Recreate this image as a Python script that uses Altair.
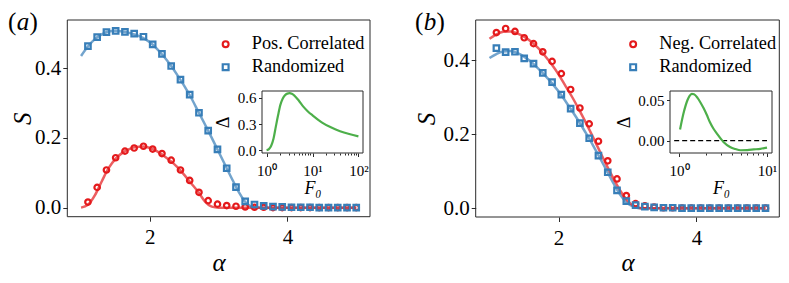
import altair as alt
import pandas as pd

# ---------------- data ----------------
alpha_pts = [1.1, 1.234, 1.369, 1.503, 1.638, 1.772, 1.907, 2.041, 2.176, 2.31,
             2.445, 2.579, 2.714, 2.848, 2.983, 3.117, 3.252, 3.386, 3.521, 3.655,
             3.79, 3.924, 4.059, 4.193, 4.328, 4.462, 4.597, 4.731, 4.866, 5.0]

a_pos_pts = [0.016, 0.058, 0.108, 0.143, 0.162, 0.171, 0.176, 0.168, 0.155, 0.136,
             0.108, 0.078, 0.044, 0.020, 0.010, 0.006, 0.004, 0.002, 0.001, 0.001,
             0.0, 0.0, 0.0, 0.0, 0.0, 0.0, 0.0, 0.0, 0.0, 0.0]
a_rand_pts = [0.463, 0.489, 0.503, 0.507, 0.504, 0.499, 0.490, 0.468, 0.441, 0.406,
              0.367, 0.324, 0.272, 0.221, 0.167, 0.113, 0.059, 0.018, 0.009, 0.005,
              0.003, 0.002, 0.001, 0.001, 0.001, 0.0, 0.0, 0.0, 0.0, 0.0]
b_neg_pts = [0.475, 0.486, 0.478, 0.461, 0.445, 0.423, 0.397, 0.364, 0.321, 0.271,
             0.228, 0.181, 0.128, 0.079, 0.034, 0.012, 0.006, 0.003, 0.001, 0.001,
             0.0, 0.0, 0.0, 0.0, 0.0, 0.0, 0.0, 0.0, 0.0, 0.0]
b_rand_pts = [0.433, 0.422, 0.423, 0.405, 0.391, 0.366, 0.341, 0.307, 0.269, 0.230,
              0.189, 0.142, 0.097, 0.048, 0.019, 0.008, 0.004, 0.002, 0.001, 0.001,
              0.0, 0.0, 0.0, 0.0, 0.0, 0.0, 0.0, 0.0, 0.0, 0.0]

a_pos_line_x = [1.0, 1.1, 1.2, 1.3, 1.4, 1.5, 1.6, 1.7, 1.8, 1.9, 2.0, 2.1, 2.2, 2.3,
                2.4, 2.5, 2.6, 2.7, 2.8, 2.9, 3.0, 5.0]
a_pos_line_y = [0.000, 0.008, 0.035, 0.075, 0.113, 0.140, 0.157, 0.168, 0.174, 0.175,
                0.171, 0.162, 0.149, 0.134, 0.116, 0.094, 0.070, 0.046, 0.018, 0.003,
                0.0, 0.0]
a_rand_line_x = [1.0, 1.1, 1.2, 1.3, 1.4, 1.5, 1.6, 1.7, 1.8, 1.9, 2.0, 2.1, 2.2, 2.3,
                 2.4, 2.5, 2.6, 2.7, 2.8, 2.9, 3.0, 3.1, 3.2, 3.3, 3.4, 3.5, 3.6, 5.0]
a_rand_line_y = [0.435, 0.462, 0.483, 0.497, 0.505, 0.507, 0.505, 0.501, 0.495, 0.487,
                 0.474, 0.456, 0.434, 0.409, 0.380, 0.349, 0.315, 0.277, 0.239, 0.200,
                 0.160, 0.120, 0.080, 0.042, 0.013, 0.002, 0.0, 0.0]
b_neg_line_x = [1.0, 1.1, 1.2, 1.3, 1.4, 1.5, 1.6, 1.7, 1.8, 1.9, 2.0, 2.1, 2.2, 2.3,
                2.4, 2.5, 2.6, 2.7, 2.8, 2.9, 3.0, 3.1, 3.2, 5.0]
b_neg_line_y = [0.458, 0.470, 0.477, 0.478, 0.473, 0.464, 0.451, 0.434, 0.413, 0.389,
                0.362, 0.331, 0.300, 0.266, 0.230, 0.192, 0.153, 0.115, 0.079, 0.046,
                0.020, 0.005, 0.0, 0.0]
b_rand_line_x = [1.0, 1.1, 1.2, 1.3, 1.4, 1.5, 1.6, 1.7, 1.8, 1.9, 2.0, 2.1, 2.2, 2.3,
                 2.4, 2.5, 2.6, 2.7, 2.8, 2.9, 3.0, 3.1, 3.2, 5.0]
b_rand_line_y = [0.406, 0.417, 0.424, 0.425, 0.420, 0.410, 0.396, 0.379, 0.360, 0.339,
                 0.316, 0.290, 0.262, 0.233, 0.202, 0.170, 0.136, 0.101, 0.066, 0.035,
                 0.013, 0.003, 0.0, 0.0]

inset_a_F0 = [1.0, 1.122, 1.259, 1.413, 1.585, 1.778, 1.995, 2.239, 2.512, 2.818, 3.162,
              3.548, 3.981, 5.012, 6.31, 7.943, 10.0, 15.85, 25.12, 39.81, 63.1, 100.0]
inset_a_delta = [0.0, 0.012, 0.05, 0.13, 0.267, 0.40, 0.52, 0.59, 0.63, 0.65, 0.655,
                 0.648, 0.63, 0.57, 0.50, 0.445, 0.40, 0.32, 0.262, 0.218, 0.185, 0.158]

inset_b_F0 = [1.026, 1.122, 1.245, 1.318, 1.396, 1.479, 1.622, 1.758, 1.905, 2.065, 2.239,
              2.455, 2.692, 3.199, 3.802, 4.365, 5.012, 5.957, 7.079, 8.414, 10.0]
inset_b_delta = [0.0137, 0.0335, 0.050, 0.0555, 0.058, 0.0575, 0.053, 0.047, 0.040, 0.032,
                 0.023, 0.015, 0.0087, -0.0017, -0.008, -0.0105, -0.012, -0.0118, -0.011,
                 -0.0102, -0.0087]
zero_line_F0 = [0.88, 10.0]
zero_line_delta = [0.0, 0.0]

# ---------------- style / layout ----------------
FONT = "Liberation Serif"
RED = "#e41a1c"
BLUE = "#377eb8"
GREEN = "#4daf4a"
INK = "#2a2a2a"
W, H = 773, 267
ONE = pd.DataFrame({"k": [0]})


def text_piece(s, x, y, size, style="normal"):
    return alt.Chart(ONE).mark_text(
        text=s, font=FONT, fontSize=size, fontStyle=style, align="left",
        baseline="alphabetic", color="black"
    ).encode(x=alt.value(x), y=alt.value(y))


def frame(x0, x1, y0, y1, fill="transparent"):
    return alt.Chart(ONE).mark_rect(fill=fill, stroke=INK, strokeWidth=1).encode(
        x=alt.value(x0), x2=alt.value(x1), y=alt.value(y0), y2=alt.value(y1))


def main_panel(x0, x1, y0, y1, ydom, name, pts_main, pts_rand, lmx, lmy, lrx, lry,
               legend_x, legend_y, tag, tag_x, s_title_x):
    ax_common = dict(domain=False, grid=False, tickSize=4.5, tickWidth=1, tickColor=INK,
                     labelFont=FONT, labelFontSize=21, labelColor="black",
                     titleFont=FONT, titleFontSize=25, titleFontStyle="italic",
                     titleFontWeight="normal", titleColor="black",
                     labelFlush=False, labelOverlap=False, titleBaseline="alphabetic")
    xs = alt.Scale(domain=[0.8, 5.2], range=[x0, x1], nice=False, zero=False)
    ys = alt.Scale(domain=ydom, range=[y1, y0], nice=False, zero=False)
    x_enc = alt.X("alpha:Q", scale=xs,
                  axis=alt.Axis(orient="bottom", offset=y1 - H, values=[2, 4], format="d",
                                title="α", labelPadding=5.5, titleY=262.5 - y1, **ax_common))
    y_enc = alt.Y("S:Q", scale=ys,
                  axis=alt.Axis(orient="left", offset=-x0, values=[0, 0.2, 0.4], format=".1f",
                                title="S", labelPadding=2, titleX=s_title_x - x0, **ax_common))

    df_pts = pd.DataFrame({
        "alpha": alpha_pts + alpha_pts,
        "S": pts_main + pts_rand,
        "series": [name] * len(alpha_pts) + ["Randomized"] * len(alpha_pts),
    })
    leg = alt.Legend(orient="none", legendX=legend_x, legendY=legend_y, title=None,
                     labelFont=FONT, labelFontSize=18.3, labelColor="black", labelLimit=300,
                     symbolStrokeWidth=2.2, symbolSize=34, labelOffset=17, rowPadding=4,
                     padding=0)
    dom = [name, "Randomized"]
    pts = alt.Chart(df_pts).mark_point(filled=False, strokeWidth=2.2, size=30, opacity=1).encode(
        x=x_enc, y=y_enc,
        color=alt.Color("series:N", scale=alt.Scale(domain=dom, range=[RED, BLUE]), legend=leg),
        shape=alt.Shape("series:N", scale=alt.Scale(domain=dom, range=["circle", "square"]),
                        legend=leg),
    )
    line_m = alt.Chart(pd.DataFrame({"alpha": lmx, "S": lmy})).mark_line(
        color=RED, strokeWidth=2.5, opacity=0.7, interpolate="monotone").encode(x=x_enc, y=y_enc)
    line_r = alt.Chart(pd.DataFrame({"alpha": lrx, "S": lry})).mark_line(
        color=BLUE, strokeWidth=2.5, opacity=0.7, interpolate="monotone").encode(x=x_enc, y=y_enc)

    t1 = text_piece("(", tag_x, 22, 25)
    t2 = text_piece(tag, tag_x + 8.8, 22, 25, "italic")
    t3 = text_piece(")", tag_x + 21.5, 22, 25)
    return alt.layer(frame(x0, x1, y0, y1), line_r, line_m, pts, t1, t2, t3)


def inset_panel(x0, x1, y0, y1, xdom, ydom, F, D, xvals, label_expr, major_test,
                yvals, yfmt, title_x, zero=False):
    ax_common = dict(domain=False, grid=False, tickWidth=1, tickColor=INK,
                     labelFont=FONT, labelFontSize=15, labelColor="black",
                     titleFont=FONT, titleFontSize=18, titleFontWeight="normal",
                     titleColor="black", labelFlush=False, labelOverlap=False,
                     titleBaseline="alphabetic")
    xs = alt.Scale(type="log", domain=xdom, range=[x0, x1], nice=False)
    ys = alt.Scale(domain=ydom, range=[y1, y0], nice=False, zero=False)
    x_enc = alt.X("F0:Q", scale=xs,
                  axis=alt.Axis(orient="bottom", offset=y1 - H, values=xvals,
                                labelExpr=label_expr,
                                tickSize={"condition": {"test": major_test, "value": 3.5},
                                          "value": 2},
                                labelPadding=7, title="F₀", titleFontStyle="italic",
                                titleY=185.5 - y1, **ax_common))
    y_enc = alt.Y("D:Q", scale=ys,
                  axis=alt.Axis(orient="left", offset=-x0, values=yvals, format=yfmt,
                                tickSize=3.5, labelPadding=2.5, title="Δ",
                                titleFontStyle="normal", titleX=title_x - x0, **ax_common))
    curve = alt.Chart(pd.DataFrame({"F0": F, "D": D})).mark_line(
        color=GREEN, strokeWidth=2.2, interpolate="monotone").encode(x=x_enc, y=y_enc)
    layers = [frame(x0, x1, y0, y1, fill="white")]
    if zero:
        layers.append(alt.Chart(pd.DataFrame({"F0": zero_line_F0, "D": zero_line_delta}))
                      .mark_line(color="black", strokeWidth=1.3, strokeDash=[5, 3])
                      .encode(x=x_enc, y=y_enc))
    layers.append(curve)
    return alt.layer(*layers)


panel_a = main_panel(59.3, 362.0, 12.0, 208.7, [-0.026, 0.538], "Pos. Correlated",
                     a_pos_pts, a_rand_pts, a_pos_line_x, a_pos_line_y,
                     a_rand_line_x, a_rand_line_y, 208.5, 27, "a", 0, 22.5)
panel_b = main_panel(467.7, 771.3, 12.0, 209.0, [-0.024, 0.509], "Neg. Correlated",
                     b_neg_pts, b_rand_pts, b_neg_line_x, b_neg_line_y,
                     b_rand_line_x, b_rand_line_y, 616.0, 27, "b", 407, 426.5)

inset_a = inset_panel(254, 355, 83, 145, [0.794, 125.9], [-0.033, 0.68],
                      inset_a_F0, inset_a_delta,
                      [1, 2, 3, 4, 5, 6, 7, 8, 9, 10, 20, 30, 40, 50, 60, 70, 80, 90, 100],
                      "datum.value == 1 ? '10⁰' : datum.value == 10 ? '10¹' : datum.value == 100 ? '10²' : ''",
                      "datum.value == 1 || datum.value == 10 || datum.value == 100",
                      [0, 0.3, 0.6], ".1f", 220.3)
inset_b = inset_panel(662, 764, 83, 145, [0.789, 11.4], [-0.0154, 0.0615],
                      inset_b_F0, inset_b_delta,
                      [1, 2, 3, 4, 5, 6, 7, 8, 9, 10],
                      "datum.value == 1 ? '10⁰' : datum.value == 10 ? '10¹' : ''",
                      "datum.value == 1 || datum.value == 10",
                      [0, 0.05], ".2f", 621.8, zero=True)

chart = (
    alt.layer(panel_a, inset_a, panel_b, inset_b)
    .resolve_scale(x="independent", y="independent", color="independent", shape="independent")
    .resolve_axis(x="independent", y="independent")
    .resolve_legend(color="independent", shape="independent")
    .properties(width=W, height=H, autosize=alt.AutoSizeParams(type="none"), padding=0)
    .configure(font=FONT)
    .configure_axis(labelFont=FONT, titleFont=FONT)
    .configure_legend(labelFont=FONT)
    .configure_view(stroke=None)
)

chart.save("out.html", embed_options={"renderer": "svg", "actions": False})
